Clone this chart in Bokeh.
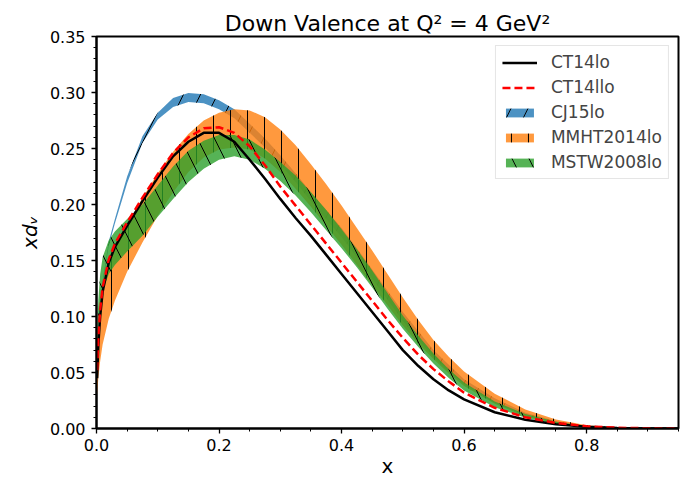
import numpy as np
from bokeh.plotting import figure
from bokeh.models import FixedTicker, PrintfTickFormatter, Legend, LegendItem
from bokeh.embed import file_html
from bokeh.resources import INLINE

# ---------------- data ----------------
x = [0.001, 0.003, 0.006, 0.01, 0.02, 0.03, 0.05, 0.075, 0.1, 0.125, 0.15, 0.175,
     0.2, 0.225, 0.25, 0.275, 0.3, 0.325, 0.35, 0.375, 0.4, 0.425, 0.45, 0.475,
     0.5, 0.525, 0.55, 0.575, 0.6, 0.65, 0.7, 0.75, 0.8, 0.85, 0.9, 0.95]

ct14lo = [0.045, 0.075, 0.100, 0.122, 0.148, 0.162, 0.181, 0.203, 0.224, 0.243, 0.256, 0.264,
          0.264, 0.256, 0.240, 0.223, 0.205, 0.188, 0.172, 0.155, 0.138, 0.121, 0.104, 0.087,
          0.070, 0.056, 0.044, 0.034, 0.026, 0.0145, 0.0078, 0.0038, 0.0016, 0.0005, 0.0001, 0.0]

ct14llo = [0.052, 0.082, 0.106, 0.126, 0.151, 0.165, 0.184, 0.206, 0.227, 0.246, 0.260, 0.268,
           0.269, 0.264, 0.252, 0.235, 0.216, 0.199, 0.182, 0.165, 0.148, 0.131, 0.114, 0.097,
           0.081, 0.066, 0.053, 0.042, 0.032, 0.0185, 0.0100, 0.0050, 0.0020, 0.0007, 0.0002, 0.0]

cj15_lo = [0.049, 0.084, 0.108, 0.128, 0.163, 0.183, 0.219, 0.255, 0.276, 0.287, 0.2915, 0.2905,
           0.285, 0.277, 0.264, 0.251, 0.236, 0.220, 0.203, 0.187, 0.171, 0.153, 0.134, 0.115,
           0.096, 0.079, 0.064, 0.051, 0.040, 0.023, 0.012, 0.0052, 0.0017, 0.0004, 0.0, 0.0]
cj15_hi = [0.051, 0.086, 0.111, 0.132, 0.167, 0.187, 0.225, 0.261, 0.282, 0.295, 0.2995, 0.2985,
           0.293, 0.285, 0.272, 0.259, 0.244, 0.228, 0.211, 0.195, 0.179, 0.161, 0.142, 0.123,
           0.104, 0.087, 0.070, 0.057, 0.044, 0.027, 0.014, 0.0068, 0.0023, 0.0006, 0.0001, 0.0]

mmht_lo = [0.030, 0.045, 0.060, 0.075, 0.098, 0.114, 0.140, 0.166, 0.190, 0.211, 0.229, 0.242,
           0.249, 0.251, 0.249, 0.241, 0.229, 0.214, 0.198, 0.181, 0.164, 0.146, 0.128, 0.110,
           0.092, 0.076, 0.062, 0.049, 0.038, 0.022, 0.011, 0.0045, 0.0012, 0.0002, 0.0, 0.0]
mmht_hi = [0.048, 0.076, 0.099, 0.118, 0.145, 0.160, 0.182, 0.206, 0.228, 0.247, 0.263, 0.275,
           0.282, 0.285, 0.284, 0.278, 0.267, 0.253, 0.236, 0.218, 0.199, 0.179, 0.159, 0.138,
           0.117, 0.097, 0.079, 0.064, 0.051, 0.031, 0.017, 0.008, 0.003, 0.001, 0.0002, 0.0]

mstw_lo = [0.060, 0.088, 0.108, 0.122, 0.138, 0.146, 0.158, 0.172, 0.189, 0.205, 0.220, 0.232,
           0.240, 0.243, 0.240, 0.232, 0.221, 0.208, 0.193, 0.177, 0.161, 0.144, 0.126, 0.107,
           0.089, 0.073, 0.058, 0.045, 0.034, 0.019, 0.0095, 0.004, 0.0012, 0.0002, 0.0, 0.0]
mstw_hi = [0.085, 0.115, 0.138, 0.153, 0.168, 0.176, 0.187, 0.200, 0.217, 0.234, 0.248, 0.257,
           0.262, 0.262, 0.258, 0.249, 0.238, 0.226, 0.211, 0.195, 0.178, 0.160, 0.141, 0.121,
           0.101, 0.083, 0.067, 0.053, 0.041, 0.024, 0.013, 0.006, 0.002, 0.0005, 0.0001, 0.0]

x_ticks = [0.0, 0.2, 0.4, 0.6, 0.8]
x_minor = [round(0.05 * k, 2) for k in range(0, 20)]
y_ticks = [0.00, 0.05, 0.10, 0.15, 0.20, 0.25, 0.30, 0.35]
y_minor = [round(0.01 * k, 2) for k in range(0, 36)]

# ---------------- figure ----------------
FONT = "DejaVu Sans"
p = figure(frame_width=582, frame_height=392, x_range=(0, 0.95), y_range=(0, 0.35),
           output_backend="svg", toolbar_location=None,
           min_border_left=96, min_border_right=5, min_border_top=36, min_border_bottom=53,
           title="Down Valence at Q\u00b2 = 4 GeV\u00b2")
p.background_fill_color = "white"
p.border_fill_color = "white"
p.outline_line_color = "black"
p.outline_line_width = 2
p.xgrid.visible = False
p.ygrid.visible = False

p.title.text_font = FONT
p.title.text_font_size = "22px"
p.title.text_font_style = "normal"
p.title.text_color = "black"
p.title.align = "center"
p.title.standoff = 2

for ax in (p.xaxis[0], p.yaxis[0]):
    ax.axis_line_color = "black"
    ax.axis_line_width = 2
    ax.major_tick_line_color = "black"
    ax.major_tick_line_width = 1.3
    ax.major_tick_out = 5
    ax.major_tick_in = 0
    ax.minor_tick_line_color = "black"
    ax.minor_tick_line_width = 1
    ax.minor_tick_out = 3
    ax.minor_tick_in = 0
    ax.major_label_text_font = FONT
    ax.major_label_text_font_size = "16px"
    ax.major_label_text_color = "black"
    ax.axis_label_text_font = FONT
    ax.axis_label_text_font_size = "20px"
    ax.axis_label_text_color = "black"

p.xaxis.ticker = FixedTicker(ticks=x_ticks, minor_ticks=x_minor)
p.yaxis.ticker = FixedTicker(ticks=y_ticks, minor_ticks=y_minor)
p.xaxis.formatter = PrintfTickFormatter(format="%.1f")
p.yaxis.formatter = PrintfTickFormatter(format="%.2f")
p.xaxis.major_label_standoff = 5
p.yaxis.major_label_standoff = 6
p.xaxis.axis_label = "x"
p.xaxis.axis_label_text_font_style = "normal"
p.xaxis.axis_label_standoff = 0
p.yaxis.axis_label = "xd\u1d65"
p.yaxis.axis_label_text_font_style = "italic"
p.yaxis.axis_label_standoff = 5

# ---------------- bands & lines ----------------
hatch_kw = dict(hatch_color="black", hatch_weight=1, hatch_alpha=1)
r_cj = p.varea(x=x, y1=cj15_lo, y2=cj15_hi, fill_color="#1f77b4", fill_alpha=0.8,
               hatch_pattern="/", hatch_scale=34, **hatch_kw)
r_mm = p.varea(x=x, y1=mmht_lo, y2=mmht_hi, fill_color="#ff7f0e", fill_alpha=0.8,
               hatch_pattern="|", hatch_scale=17, **hatch_kw)
r_ms = p.varea(x=x, y1=mstw_lo, y2=mstw_hi, fill_color="#2ca02c", fill_alpha=0.8,
               hatch_pattern="\\", hatch_scale=34, **hatch_kw)
r_ct = p.line(x, ct14lo, line_color="black", line_width=2.5)
r_ctl = p.line(x, ct14llo, line_color="red", line_width=2.5, line_dash="8 4")

legend = Legend(items=[LegendItem(label="CT14lo", renderers=[r_ct]),
                       LegendItem(label="CT14llo", renderers=[r_ctl]),
                       LegendItem(label="CJ15lo", renderers=[r_cj]),
                       LegendItem(label="MMHT2014lo", renderers=[r_mm]),
                       LegendItem(label="MSTW2008lo", renderers=[r_ms])],
                location="top_right", margin=9, padding=6, spacing=5,
                glyph_width=35, glyph_height=11, label_standoff=14,
                label_text_font=FONT, label_text_font_size="17px",
                border_line_color="#cccccc", border_line_width=1,
                background_fill_alpha=0.8)
p.add_layout(legend)

open("out.html", "w").write(file_html(p, INLINE))
